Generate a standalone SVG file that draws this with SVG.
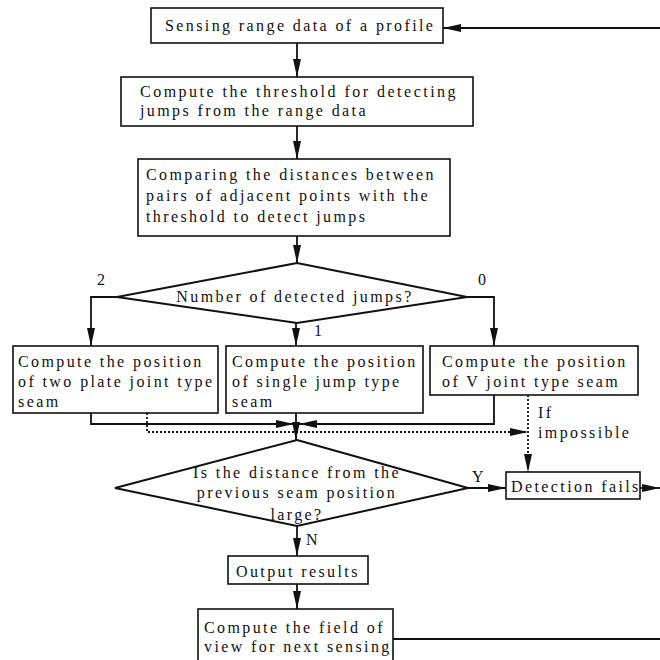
<svg xmlns="http://www.w3.org/2000/svg" width="660" height="660" viewBox="0 0 660 660">
<defs>
<marker id="ah" markerUnits="userSpaceOnUse" markerWidth="20" markerHeight="10" refX="18" refY="4" orient="auto">
<path d="M0,0 L18,4 L0,8 Z" fill="#111"/>
</marker>
<style>
.box{fill:#fff;stroke:#111;stroke-width:1.6}
.dia{fill:#fff;stroke:#111;stroke-width:2}
.t{font-family:"Liberation Serif","Times New Roman",serif;font-size:16px;letter-spacing:2.4px;fill:#111}
.tm{text-anchor:middle}
.c{fill:none;stroke:#111;stroke-width:1.8}
.d{fill:none;stroke:#111;stroke-width:1.8;stroke-dasharray:2,2}
</style>
</defs>
<rect width="660" height="660" fill="#fff"/>
<g id="connectors">
<path class="c" d="M660,28 L443,28" marker-end="url(#ah)"/>
<path class="c" d="M297,43 L297,77" marker-end="url(#ah)"/>
<path class="c" d="M297,126 L297,159" marker-end="url(#ah)"/>
<path class="c" d="M297,236 L297,263" marker-end="url(#ah)"/>
<path class="c" d="M117,297 L91,297 L91,346" marker-end="url(#ah)"/>
<path class="c" d="M296,323 L296,346" marker-end="url(#ah)"/>
<path class="c" d="M467,297 L494,297 L494,346" marker-end="url(#ah)"/>
<path class="c" d="M91,413 L91,424 L294,424" marker-end="url(#ah)"/>
<path class="c" d="M494,395 L494,424 L299,424" marker-end="url(#ah)"/>
<path class="c" d="M296,413 L296,440" marker-end="url(#ah)"/>
<path class="d" d="M147,413 L147,432 L528,432" marker-end="url(#ah)"/>
<path class="d" d="M528,395 L528,472" marker-end="url(#ah)"/>
<path class="c" d="M468,488 L506,488" marker-end="url(#ah)"/>
<path class="c" d="M640,488 L660,488" marker-end="url(#ah)"/>
<path class="c" d="M297,526 L297,556" marker-end="url(#ah)"/>
<path class="c" d="M297,584 L297,609" marker-end="url(#ah)"/>
<path class="c" d="M393,639 L660,639"/>
<text class="t" x="97" y="285">2</text>
<text class="t" x="478" y="285">0</text>
<text class="t" x="314" y="336">1</text>
<text class="t" x="538" y="418">If</text>
<text class="t" x="538" y="438">impossible</text>
<text class="t" x="472" y="482">Y</text>
<text class="t" x="306" y="545">N</text>
</g>
<g id="n1">
<rect class="box" x="151" y="8" width="292" height="35"/>
<text class="t" x="165" y="31">Sensing range data of a profile</text>
</g>
<g id="n2">
<rect class="box" x="121" y="77" width="352" height="49"/>
<text class="t" x="140" y="97" textLength="318" lengthAdjust="spacing">Compute the threshold for detecting</text>
<text class="t" x="140" y="116">jumps from the range data</text>
</g>
<g id="n3">
<rect class="box" x="138" y="159" width="312" height="77"/>
<text class="t" x="146" y="180">Comparing the distances between</text>
<text class="t" x="146" y="201">pairs of adjacent points with the</text>
<text class="t" x="146" y="222">threshold to detect jumps</text>
</g>
<g id="d1">
<polygon class="dia" points="297,263 467,297 297,323 117,297"/>
<text class="t tm" x="295" y="302">Number of detected jumps?</text>
</g>
<g id="n4">
<rect class="box" x="13" y="346" width="205" height="67"/>
<text class="t" x="18" y="367">Compute the position</text>
<text class="t" x="18" y="387">of two plate joint type</text>
<text class="t" x="18" y="407">seam</text>
</g>
<g id="n5">
<rect class="box" x="226" y="346" width="197" height="67"/>
<text class="t" x="232" y="367">Compute the position</text>
<text class="t" x="232" y="387">of single jump type</text>
<text class="t" x="232" y="407">seam</text>
</g>
<g id="n6">
<rect class="box" x="430" y="346" width="208" height="49"/>
<text class="t" x="442" y="367">Compute the position</text>
<text class="t" x="442" y="387">of V joint type seam</text>
</g>
<g id="d2">
<polygon class="dia" points="297,440 468,488 297,526 115,488"/>
<text class="t tm" x="297" y="478">Is the distance from the</text>
<text class="t tm" x="297" y="498">previous seam position</text>
<text class="t tm" x="297" y="520">large?</text>
</g>
<g id="n7">
<rect class="box" x="506" y="472" width="134" height="27"/>
<text class="t" x="511" y="492">Detection fails</text>
</g>
<g id="n8">
<rect class="box" x="228" y="556" width="140" height="28"/>
<text class="t" x="236" y="577">Output results</text>
</g>
<g id="n9">
<rect class="box" x="198" y="609" width="195" height="70"/>
<text class="t" x="204" y="633">Compute the field of</text>
<text class="t" x="204" y="652">view for next sensing</text>
</g>
</svg>
